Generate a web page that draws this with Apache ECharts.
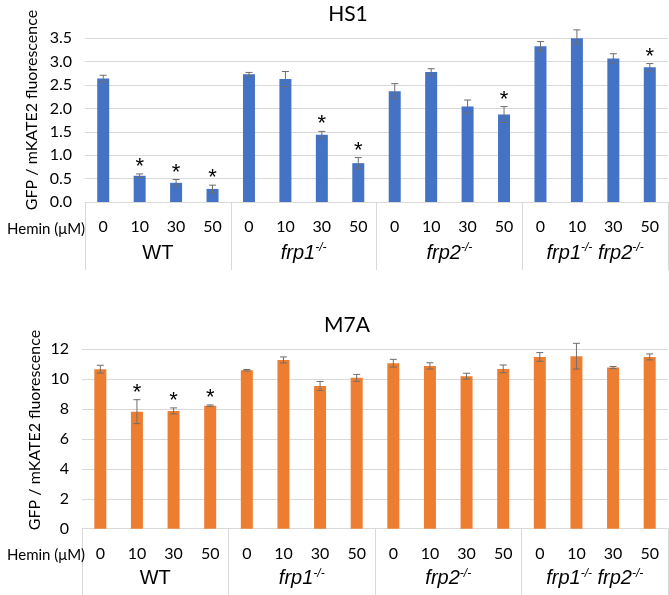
<!DOCTYPE html>
<html><head><meta charset="utf-8">
<script src="https://cdn.jsdelivr.net/npm/echarts@6/dist/echarts.min.js"></script>
<style>html,body{margin:0;padding:0;background:#fff}#c{width:669px;height:595px}</style>
</head><body><div id="c"></div>
<script>
const doses = ['0', '10', '30', '50'];
const groups = ['WT', 'frp1-/-', 'frp2-/-', 'frp1-/- frp2-/-'];
const hs1Values = [2.64, 0.56, 0.41, 0.28, 2.73, 2.63, 1.44, 0.83, 2.37, 2.78, 2.04, 1.87, 3.33, 3.53, 3.07, 2.88];
const hs1Errors = [0.07, 0.04, 0.07, 0.08, 0.04, 0.16, 0.07, 0.12, 0.16, 0.07, 0.14, 0.17, 0.10, 0.15, 0.10, 0.08];
const hs1Signif = [0, 1, 1, 1, 0, 0, 1, 1, 0, 0, 0, 1, 0, 0, 0, 1];
const m7aValues = [10.67, 7.83, 7.88, 8.23, 10.60, 11.29, 9.55, 10.09, 11.07, 10.89, 10.20, 10.69, 11.49, 11.54, 10.78, 11.49];
const m7aErrors = [0.26, 0.80, 0.20, 0.05, 0.05, 0.20, 0.30, 0.23, 0.26, 0.21, 0.20, 0.26, 0.29, 0.86, 0.07, 0.20];
const m7aSignif = [0, 1, 1, 1, 0, 0, 0, 0, 0, 0, 0, 0, 0, 0, 0, 0];
const yLabel = 'GFP / mKATE2 fluorescence';
const xLabel = 'Hemin (\u03bcM)';

const categories = [];
groups.forEach(g => doses.forEach(d => categories.push(d)));

const FONT = 'Lato';
const GFONT = 'Liberation Sans';
const gridColor = '#d9d9d9';

function groupFmt(g) {
  return g.split(' ').map(t => {
    const m = t.match(/^(.*)(-\/-)$/);
    return m ? '{it|' + m[1] + '}{sup|' + m[2] + '}' : '{n|' + t + '}';
  }).join('{n| }');
}
const rich = {
  n: { fontFamily: GFONT, fontSize: 20, color: '#000', lineHeight: 22 },
  it: { fontFamily: GFONT, fontSize: 20, fontStyle: 'italic', color: '#000', lineHeight: 22 },
  sup: { fontFamily: GFONT, fontSize: 12, fontStyle: 'italic', color: '#000', verticalAlign: 'top', lineHeight: 12 }
};

function makeErr(values, errors, signif, gridIdx) {
  return {
    type: 'custom',
    xAxisIndex: gridIdx * 2,
    yAxisIndex: gridIdx,
    data: values.map((v, i) => [i, v, errors[i], signif[i]]),
    z: 5,
    renderItem: function (params, api) {
      const i = api.value(0), v = api.value(1), e = api.value(2), s = api.value(3);
      const top = api.coord([i, v + e]);
      const bot = api.coord([i, v - e]);
      const hw = 3.5;
      const style = { stroke: '#6e6e6e', lineWidth: 1 };
      const children = [
        { type: 'line', shape: { x1: top[0], y1: top[1], x2: bot[0], y2: bot[1] }, style },
        { type: 'line', shape: { x1: top[0] - hw, y1: top[1], x2: top[0] + hw, y2: top[1] }, style },
        { type: 'line', shape: { x1: bot[0] - hw, y1: bot[1], x2: bot[0] + hw, y2: bot[1] }, style }
      ];
      if (s) {
        children.push({ type: 'text', style: { text: '*', x: top[0], y: top[1] + 4, align: 'center', verticalAlign: 'bottom', fontSize: 22, fontFamily: GFONT, fill: '#000' } });
      }
      return { type: 'group', children };
    }
  };
}

function xAxes(gridIdx, tickLen, groupMargin) {
  return [
    {
      type: 'category', gridIndex: gridIdx, data: categories, position: 'bottom',
      axisLine: { lineStyle: { color: gridColor } }, axisTick: { show: false },
      axisLabel: { fontFamily: FONT, fontSize: 16, color: '#000', margin: 17, interval: 0 }
    },
    {
      type: 'category', gridIndex: gridIdx, data: groups, position: 'bottom',
      axisLine: { show: false },
      axisTick: { show: true, length: tickLen, lineStyle: { color: gridColor } },
      axisLabel: { margin: groupMargin, interval: 0, formatter: groupFmt, rich: rich }
    }
  ];
}

function yAxis(gridIdx, max, interval, dec) {
  return {
    type: 'value', gridIndex: gridIdx, min: 0, max: max, interval: interval,
    axisLine: { show: false }, axisTick: { show: false },
    splitLine: { lineStyle: { color: gridColor } },
    axisLabel: { fontFamily: FONT, fontSize: 16, color: '#000', margin: 13, formatter: v => v.toFixed(dec) }
  };
}

const chart = echarts.init(document.getElementById('c'));
chart.setOption({
  animation: false,
  title: [
    { text: 'HS1', left: 348, top: 4, padding: 0, textAlign: 'center', textStyle: { fontFamily: FONT, fontSize: 21, fontWeight: 'normal', color: '#000' } },
    { text: 'M7A', left: 347, top: 315, padding: 0, textAlign: 'center', textStyle: { fontFamily: FONT, fontSize: 21, fontWeight: 'normal', color: '#000' } },
    { text: xLabel, left: 2, top: 217, textStyle: { fontFamily: FONT, fontSize: 15, fontWeight: 'normal', color: '#000' } },
    { text: xLabel, left: 2, top: 543, textStyle: { fontFamily: FONT, fontSize: 15, fontWeight: 'normal', color: '#000' } }
  ],
  graphic: [
    { type: 'text', x: 32, y: 110, rotation: Math.PI / 2, style: { text: yLabel, align: 'center', verticalAlign: 'middle', fontFamily: FONT, fontSize: 16, fill: '#000' } },
    { type: 'text', x: 35, y: 430, rotation: Math.PI / 2, style: { text: yLabel, align: 'center', verticalAlign: 'middle', fontFamily: FONT, fontSize: 16, fill: '#000' } }
  ],
  grid: [
    { left: 85, right: 1, top: 38.3, height: 163.7 },
    { left: 82, right: 1, top: 349.3, height: 179.4 }
  ],
  xAxis: xAxes(0, 68, 40).concat(xAxes(1, 68, 39)),
  yAxis: [yAxis(0, 3.5, 0.5, 1), yAxis(1, 12, 2, 0)],
  series: [
    { type: 'bar', xAxisIndex: 0, yAxisIndex: 0, data: hs1Values, barWidth: 12, itemStyle: { color: '#4472C4' } },
    makeErr(hs1Values, hs1Errors, hs1Signif, 0),
    { type: 'bar', xAxisIndex: 2, yAxisIndex: 1, data: m7aValues, barWidth: 12, itemStyle: { color: '#ED7D31' } },
    makeErr(m7aValues, m7aErrors, m7aSignif, 1)
  ]
});
</script></body></html>
